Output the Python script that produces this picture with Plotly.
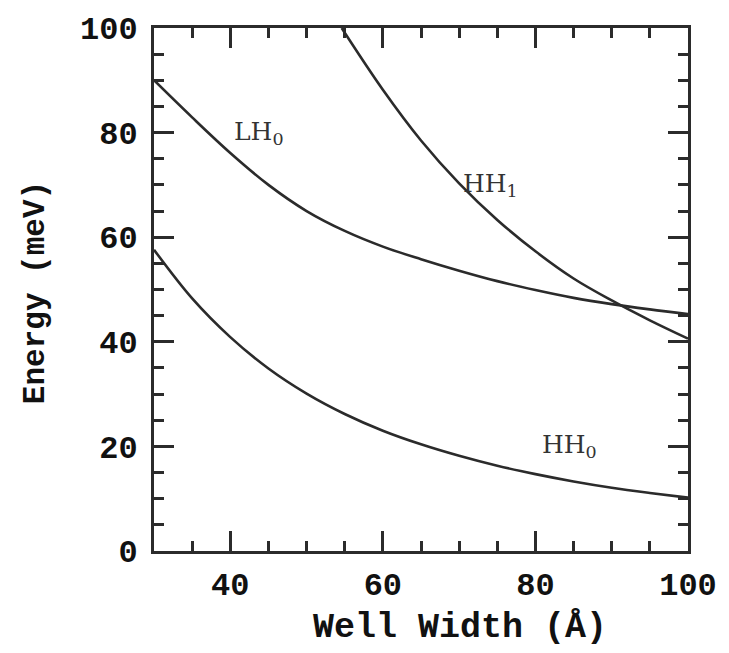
import plotly.graph_objects as go

# Data
width_grid = [30, 35, 40, 45, 50, 55, 60, 65, 70, 75, 80, 85, 90, 95, 100]
hh0 = [57.6, 48.3, 40.9, 34.9, 30.1, 26.2, 23.0, 20.4, 18.2, 16.3, 14.7, 13.3, 12.1, 11.1, 10.2]
lh0 = [90.0, 82.9, 76.1, 70.0, 65.0, 61.2, 58.2, 55.8, 53.6, 51.6, 49.9, 48.4, 47.2, 46.2, 45.3]
hh1_width = [54.6, 60, 65, 70, 75, 80, 85, 90, 95, 100]
hh1 = [100.0, 88.2, 78.5, 70.3, 63.3, 57.3, 52.1, 47.9, 44.1, 40.6]

x_ticks = [40, 60, 80, 100]
y_ticks = [0, 20, 40, 60, 80, 100]

line_col = "#2b2b2b"
tick_font = dict(family="Liberation Mono", size=32, color="#111111")

fig = go.Figure()
for xs, ys in [(width_grid, hh0), (width_grid, lh0), (hh1_width, hh1)]:
    fig.add_trace(go.Scatter(x=xs, y=ys, mode="lines",
                             line=dict(color=line_col, width=2.6, shape="spline", smoothing=1.0),
                             showlegend=False, hoverinfo="skip", cliponaxis=True))

label_font = dict(family="DejaVu Serif", size=25, color="#333333")
fig.add_annotation(x=40.2, y=80.0, text="LH<sub>0</sub>", showarrow=False,
                   xanchor="left", yanchor="middle", font=label_font)
fig.add_annotation(x=70.3, y=70.0, text="HH<sub>1</sub>", showarrow=False,
                   xanchor="left", yanchor="middle", font=label_font)
fig.add_annotation(x=80.6, y=20.0, text="HH<sub>0</sub>", showarrow=False,
                   xanchor="left", yanchor="middle", font=label_font)

W, H = 729, 653
L, R, T, B = 154, 38, 23, 102
pw, ph = W - L - R, H - T - B

def px_to_paper(px, py):
    return (px - L) / pw, (H - B - py) / ph

xt_x, xt_y = px_to_paper(462, 629)
yt_x, yt_y = px_to_paper(35, 290)
fig.add_annotation(x=xt_x, y=xt_y, xref="paper", yref="paper", text="<b>Well Width (Å)</b>",
                   showarrow=False, font=dict(family="Liberation Mono", size=35, color="#111111"),
                   xanchor="center", yanchor="middle")
fig.add_annotation(x=yt_x, y=yt_y, xref="paper", yref="paper", text="<b>Energy (meV)</b>",
                   showarrow=False, font=dict(family="Liberation Mono", size=31, color="#111111"),
                   textangle=-90, xanchor="center", yanchor="middle")

axis_common = dict(showline=True, linecolor=line_col, linewidth=3, mirror="ticks",
                   ticks="inside", tickcolor=line_col, tickwidth=2.5, ticklen=20,
                   showgrid=False, zeroline=False, tickfont=tick_font)

fig.update_xaxes(range=[30, 100], tickmode="array", tickvals=x_ticks,
                 ticktext=[f"<b>{v}</b>" for v in x_ticks],
                 minor=dict(dtick=5, tick0=30, ticks="inside", ticklen=10, tickwidth=2.5,
                            tickcolor=line_col, showgrid=False),
                 ticklabelstandoff=3, **axis_common)
fig.update_yaxes(range=[0, 100], tickmode="array", tickvals=y_ticks,
                 ticktext=[f"<b>{v}</b>" for v in y_ticks],
                 minor=dict(dtick=5, tick0=0, ticks="inside", ticklen=10, tickwidth=2.5,
                            tickcolor=line_col, showgrid=False),
                 ticklabelstandoff=7, **axis_common)

fig.update_layout(width=W, height=H, margin=dict(l=L, r=R, t=T, b=B, pad=0),
                  plot_bgcolor="white", paper_bgcolor="white")

fig.write_html("out.html")
